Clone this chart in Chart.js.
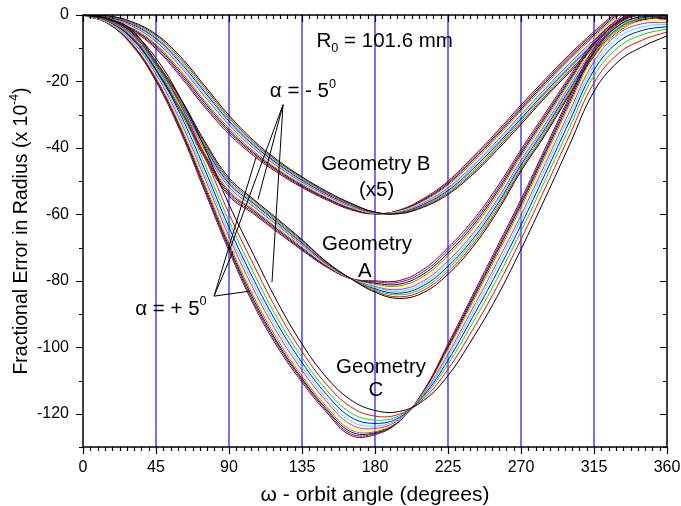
<!DOCTYPE html>
<html>
<head>
<meta charset="utf-8">
<script src="https://cdn.jsdelivr.net/npm/chart.js@4.4.1/dist/chart.umd.min.js"></script>
<style>
  body { margin: 0; background: #fff; }
  canvas { display: block; }
</style>
</head>
<body>
<canvas id="grafico" width="681" height="506"></canvas>
<script>
/** angulos de orbita (grados) */
const angulos = [0, 15, 30, 45, 60, 75, 90, 105, 120, 135, 150, 165, 180,
                 195, 210, 225, 240, 255, 270, 285, 300, 315, 330, 345, 360];

/** valores de alfa, una curva por valor */
const alfas = [-5, -4, -3, -2, -1, 0, 1, 2, 3, 4, 5];

/** colores de cada curva (orden de Origin) */
const colores = ['#000000', '#ff0000', '#00e000', '#0000ff', '#00ffff', '#ff00ff',
                 '#ffff00', '#808000', '#000080', '#800080', '#800000'];

/** lineas verticales azules */
const lineasAzules = [45, 90, 135, 180, 225, 270, 315];

/** Geometria B (x5): una fila por angulo, una columna por alfa */
const geomB = [
  [0, 0, 0, 0, 0, 0, 0, 0, 0, 0, 0],
  [-0.2, -0.3, -0.4, -0.6, -0.7, -0.8, -0.9, -1.0, -1.2, -1.3, -1.4],
  [-2.0, -2.3, -2.5, -2.8, -3.0, -3.3, -3.6, -3.8, -4.1, -4.3, -4.6],
  [-5.8, -6.2, -6.7, -7.1, -7.6, -8.0, -8.4, -8.9, -9.3, -9.8, -10.2],
  [-12.5, -13.1, -13.7, -14.3, -14.9, -15.5, -16.1, -16.7, -17.3, -17.9, -18.5],
  [-21.3, -21.9, -22.6, -23.2, -23.9, -24.5, -25.1, -25.8, -26.4, -27.1, -27.7],
  [-30.2, -30.8, -31.3, -31.9, -32.4, -33.0, -33.6, -34.1, -34.7, -35.2, -35.8],
  [-37.7, -38.2, -38.6, -39.1, -39.5, -40.0, -40.5, -40.9, -41.4, -41.8, -42.3],
  [-43.7, -44.1, -44.5, -44.8, -45.2, -45.6, -46.0, -46.4, -46.7, -47.1, -47.5],
  [-48.7, -49.0, -49.3, -49.7, -50.0, -50.3, -50.6, -50.9, -51.3, -51.6, -51.9],
  [-53.0, -53.3, -53.5, -53.8, -54.0, -54.3, -54.6, -54.8, -55.1, -55.3, -55.6],
  [-56.6, -56.8, -57.0, -57.2, -57.4, -57.6, -57.8, -58.0, -58.2, -58.4, -58.6],
  [-59.3, -59.4, -59.4, -59.5, -59.5, -59.6, -59.7, -59.7, -59.8, -59.8, -59.9],
  [-59.8, -59.7, -59.6, -59.5, -59.4, -59.3, -59.1, -59.0, -58.9, -58.8, -58.7],
  [-57.8, -57.5, -57.3, -57.0, -56.8, -56.5, -56.2, -56.0, -55.7, -55.5, -55.2],
  [-54.0, -53.6, -53.2, -52.8, -52.4, -52.0, -51.6, -51.2, -50.8, -50.4, -50.0],
  [-48.1, -47.6, -47.1, -46.5, -46.0, -45.5, -45.0, -44.5, -43.9, -43.4, -42.9],
  [-40.8, -40.2, -39.7, -39.1, -38.6, -38.0, -37.4, -36.9, -36.3, -35.8, -35.2],
  [-32.9, -32.3, -31.7, -31.2, -30.6, -30.0, -29.4, -28.8, -28.3, -27.7, -27.1],
  [-24.8, -24.3, -23.7, -23.2, -22.6, -22.1, -21.5, -21.0, -20.4, -19.9, -19.3],
  [-17.2, -16.7, -16.1, -15.6, -15.0, -14.5, -14.0, -13.4, -12.9, -12.3, -11.8],
  [-10.0, -9.5, -9.0, -8.5, -8.0, -7.5, -7.0, -6.5, -6.0, -5.5, -5.0],
  [-3.1, -2.7, -2.3, -1.8, -1.4, -1.0, -0.6, -0.2, 0.3, 0.7, 1.1],
  [2.5, 2.8, 3.1, 3.4, 3.7, 4.0, 4.3, 4.6, 4.9, 5.2, 5.5],
  [5.9, 6.1, 6.3, 6.6, 6.8, 7.0, 7.2, 7.4, 7.7, 7.9, 8.1]
];

/** Geometria A */
const geomA = [
  [0, 0, 0, 0, 0, 0, 0, 0, 0, 0, 0],
  [-1.0, -1.1, -1.2, -1.3, -1.4, -1.5, -1.6, -1.7, -1.8, -1.9, -2.0],
  [-4.5, -4.8, -5.0, -5.3, -5.5, -5.8, -6.0, -6.3, -6.5, -6.8, -7.0],
  [-14.0, -14.3, -14.6, -14.9, -15.2, -15.5, -15.8, -16.1, -16.4, -16.7, -17.0],
  [-25.0, -25.4, -25.8, -26.2, -26.6, -27.0, -27.4, -27.8, -28.2, -28.6, -29.0],
  [-38.0, -38.5, -39.0, -39.5, -40.0, -40.5, -41.0, -41.5, -42.0, -42.5, -43.0],
  [-49.0, -49.6, -50.1, -50.7, -51.2, -51.8, -52.3, -52.9, -53.4, -54.0, -54.5],
  [-55.4, -55.8, -56.3, -56.7, -57.2, -57.6, -58.0, -58.5, -58.9, -59.4, -59.8],
  [-61.4, -61.8, -62.2, -62.6, -63.0, -63.4, -63.8, -64.2, -64.6, -65.0, -65.4],
  [-67.6, -67.9, -68.2, -68.6, -68.9, -69.2, -69.5, -69.8, -70.2, -70.5, -70.8],
  [-74.2, -74.4, -74.5, -74.7, -74.8, -75.0, -75.2, -75.3, -75.5, -75.6, -75.8],
  [-79.3, -79.3, -79.3, -79.3, -79.3, -79.3, -79.3, -79.3, -79.3, -79.3, -79.3],
  [-83.4, -83.1, -82.7, -82.4, -82.0, -81.7, -81.4, -81.0, -80.7, -80.3, -80.0],
  [-85.3, -84.8, -84.2, -83.7, -83.1, -82.6, -82.1, -81.5, -81.0, -80.4, -79.9],
  [-83.5, -82.8, -82.1, -81.4, -80.7, -80.0, -79.3, -78.6, -77.9, -77.2, -76.5],
  [-78.0, -77.2, -76.4, -75.6, -74.8, -74.0, -73.2, -72.4, -71.6, -70.8, -70.0],
  [-70.0, -69.2, -68.4, -67.6, -66.8, -66.0, -65.2, -64.4, -63.6, -62.8, -62.0],
  [-59.5, -58.8, -58.0, -57.3, -56.5, -55.8, -55.0, -54.3, -53.5, -52.8, -52.0],
  [-47.0, -46.4, -45.7, -45.1, -44.4, -43.8, -43.1, -42.5, -41.8, -41.2, -40.5],
  [-36.0, -35.4, -34.7, -34.1, -33.4, -32.8, -32.1, -31.5, -30.8, -30.2, -29.5],
  [-24.0, -23.5, -22.9, -22.4, -21.8, -21.3, -20.7, -20.2, -19.6, -19.1, -18.5],
  [-12.5, -12.1, -11.6, -11.2, -10.7, -10.3, -9.8, -9.4, -8.9, -8.5, -8.0],
  [-5.0, -4.7, -4.3, -4.0, -3.6, -3.3, -2.9, -2.6, -2.2, -1.9, -1.5],
  [-1.5, -1.3, -1.0, -0.8, -0.5, -0.3, 0.0, 0.3, 0.5, 0.8, 1.0],
  [-1.0, -0.8, -0.5, -0.3, 0.0, 0.3, 0.5, 0.8, 1.0, 1.3, 1.5]
];

/** Geometria C */
const geomC = [
  [0, 0, 0, 0, 0, 0, 0, 0, 0, 0, 0],
  [-1.2, -1.5, -1.7, -1.8, -2.0, -2.1, -2.2, -2.3, -2.4, -2.4, -2.5],
  [-5.0, -5.8, -6.4, -7.0, -7.4, -7.8, -8.1, -8.4, -8.6, -8.8, -9.0],
  [-13.0, -14.4, -15.5, -16.4, -17.2, -17.8, -18.4, -18.9, -19.3, -19.7, -20.0],
  [-25.0, -27.0, -28.6, -29.9, -31.0, -31.9, -32.7, -33.4, -34.0, -34.5, -35.0],
  [-40.0, -42.6, -44.7, -46.4, -47.8, -49.0, -50.0, -50.9, -51.7, -52.4, -53.0],
  [-57.0, -59.8, -62.0, -63.9, -65.4, -66.7, -67.8, -68.8, -69.6, -70.3, -71.0],
  [-72.0, -75.0, -77.4, -79.4, -81.0, -82.4, -83.6, -84.6, -85.5, -86.3, -87.0],
  [-86.5, -89.2, -91.4, -93.1, -94.6, -95.8, -96.9, -97.8, -98.7, -99.3, -100.0],
  [-99.0, -101.3, -103.1, -104.6, -105.9, -106.9, -107.9, -108.7, -109.4, -109.9, -110.5],
  [-109.0, -111.1, -112.8, -114.1, -115.3, -116.2, -117.1, -117.8, -118.5, -119.0, -119.5],
  [-115.8, -117.9, -119.7, -121.0, -122.2, -123.2, -124.0, -124.8, -125.4, -126.0, -126.5],
  [-119.0, -120.7, -121.9, -122.9, -123.7, -124.4, -124.9, -125.4, -125.7, -126.0, -126.3],
  [-119.3, -120.1, -120.6, -121.1, -121.4, -121.7, -121.9, -122.0, -122.1, -122.2, -122.3],
  [-116.0, -115.4, -114.9, -114.5, -114.2, -113.9, -113.7, -113.5, -113.3, -113.2, -113.0],
  [-108.5, -106.6, -105.1, -103.9, -102.8, -102.0, -101.2, -100.5, -100.0, -99.5, -99.0],
  [-97.5, -94.9, -92.8, -91.1, -89.7, -88.5, -87.5, -86.6, -85.8, -85.2, -84.5],
  [-85.0, -82.0, -79.6, -77.7, -76.0, -74.7, -73.5, -72.4, -71.5, -70.8, -70.0],
  [-70.5, -67.5, -65.1, -63.2, -61.5, -60.2, -59.0, -57.9, -57.0, -56.3, -55.5],
  [-55.0, -52.0, -49.6, -47.7, -46.0, -44.7, -43.5, -42.4, -41.5, -40.8, -40.0],
  [-39.0, -36.1, -33.8, -31.9, -30.3, -29.0, -27.8, -26.8, -26.0, -25.2, -24.5],
  [-23.0, -20.4, -18.3, -16.6, -15.2, -14.0, -13.0, -12.1, -11.3, -10.7, -10.0],
  [-14.0, -11.6, -9.7, -8.1, -6.8, -5.7, -4.8, -3.9, -3.2, -2.6, -2.0],
  [-9.5, -7.5, -5.9, -4.6, -3.5, -2.6, -1.8, -1.1, -0.5, 0.0, 0.5],
  [-6.3, -5.1, -4.2, -3.5, -2.8, -2.3, -1.8, -1.4, -1.1, -0.8, -0.5]
];

/** textos dentro del grafico (posicion en unidades de los ejes) */
const etiquetas = [
  { partes: [['R', ''], ['0', 'sub'], [' = 101.6 mm', '']], x: 186, y: -8.0 },
  { partes: [['\u03b1 = - 5', ''], ['0', 'sup']], x: 135.6, y: -23.1 },
  { partes: [['\u03b1 = + 5', ''], ['0', 'sup']], x: 54.2, y: -88.5 },
  { partes: [['Geometry B', '']], x: 180.5, y: -45 },
  { partes: [['(x5)', '']], x: 181, y: -52.8 },
  { partes: [['Geometry', '']], x: 175, y: -69 },
  { partes: [['A', '']], x: 173.8, y: -77.1 },
  { partes: [['Geometry', '']], x: 183.7, y: -105.9 },
  { partes: [['C', '']], x: 180.6, y: -113.1 }
];

/** lineas que salen de las etiquetas de alfa */
const flechas = [
  [[123.3, -27.0], [90.6, -70.5]],
  [[123.3, -27.0], [107.9, -55.5]],
  [[123.3, -27.0], [116.5, -80.4]],
  [[80.8, -84.6], [106.6, -42.9]],
  [[80.8, -84.6], [92.5, -71.1]],
  [[80.8, -84.6], [102.9, -83.1]]
];

const fuente = 'Liberation Sans, Arial, sans-serif';
Chart.defaults.font.family = fuente;
Chart.defaults.color = '#000';

function armarSeries(tabla, nombre) {
  return alfas.map(function (a, k) {
    return {
      label: nombre + ' alfa=' + a,
      data: angulos.map(function (w, i) { return { x: w, y: tabla[i][k] }; }),
      borderColor: colores[k],
      borderWidth: 1,
      pointRadius: 0,
      tension: 0.4,
      fill: false
    };
  });
}

// dibuja un texto con partes normales, sub y superindice, centrado en (cx, cy)
function textoCompuesto(ctx, partes, cx, cy, tam) {
  let ancho = 0;
  partes.forEach(function (p) {
    ctx.font = (p[1] ? tam * 0.62 : tam) + 'px ' + fuente;
    ancho += ctx.measureText(p[0]).width;
  });
  let x = cx - ancho / 2;
  ctx.textAlign = 'left';
  ctx.textBaseline = 'middle';
  partes.forEach(function (p) {
    let dy = 0;
    if (p[1] === 'sub') dy = tam * 0.32;
    if (p[1] === 'sup') dy = -tam * 0.36;
    ctx.font = (p[1] ? tam * 0.62 : tam) + 'px ' + fuente;
    ctx.fillText(p[0], x, cy + dy);
    x += ctx.measureText(p[0]).width;
  });
}

const decorado = {
  id: 'decorado',
  beforeDatasetsDraw: function (chart) {
    const ctx = chart.ctx;
    const a = chart.chartArea;
    const sx = chart.scales.x;
    ctx.save();
    ctx.strokeStyle = '#5050ff';
    ctx.lineWidth = 1.6;
    ctx.beginPath();
    lineasAzules.forEach(function (v) {
      const px = sx.getPixelForValue(v);
      ctx.moveTo(px, a.top);
      ctx.lineTo(px, a.bottom);
    });
    ctx.stroke();
    ctx.restore();
  },
  afterDraw: function (chart) {
    const ctx = chart.ctx;
    const a = chart.chartArea;
    const sx = chart.scales.x;
    const sy = chart.scales.y;
    ctx.save();
    ctx.fillStyle = '#000';

    // lineas de las etiquetas alfa
    ctx.strokeStyle = '#000';
    ctx.lineWidth = 1;
    flechas.forEach(function (f) {
      ctx.beginPath();
      ctx.moveTo(sx.getPixelForValue(f[0][0]), sy.getPixelForValue(f[0][1]));
      ctx.lineTo(sx.getPixelForValue(f[1][0]), sy.getPixelForValue(f[1][1]));
      ctx.stroke();
    });

    // textos
    etiquetas.forEach(function (e) {
      textoCompuesto(ctx, e.partes, sx.getPixelForValue(e.x), sy.getPixelForValue(e.y), 20.5);
    });

    // marco
    ctx.lineWidth = 1.5;
    ctx.strokeRect(a.left, a.top, a.right - a.left, a.bottom - a.top);

    // marcas del eje x (abajo hacia fuera, arriba hacia dentro)
    ctx.lineWidth = 1.2;
    ctx.beginPath();
    for (let i = 0; i <= 80; i++) {
      const px = Math.round(sx.getPixelForValue(i * 4.5)) + 0.5;
      const largo = i % 10 === 0 ? 7 : 4;
      ctx.moveTo(px, a.bottom); ctx.lineTo(px, a.bottom + largo);
      ctx.moveTo(px, a.top); ctx.lineTo(px, a.top + largo);
    }
    // marcas del eje y (izquierda hacia fuera, derecha hacia dentro)
    for (let v = 0; v >= -130; v -= 10) {
      const py = Math.round(sy.getPixelForValue(v)) + 0.5;
      const largo = v % 20 === 0 ? 7 : 4;
      ctx.moveTo(a.left, py); ctx.lineTo(a.left - largo, py);
      ctx.moveTo(a.right, py); ctx.lineTo(a.right - largo, py);
    }
    ctx.stroke();

    // titulos de ejes
    textoCompuesto(ctx, [['\u03c9 - orbit angle (degrees)', '']], (a.left + a.right) / 2, 495, 21);
    ctx.translate(22, (a.top + a.bottom) / 2);
    ctx.rotate(-Math.PI / 2);
    textoCompuesto(ctx, [['Fractional Error in Radius (x 10', ''], ['-4', 'sup'], [')', '']], 0, 0, 19.5);
    ctx.restore();
  }
};

const series = armarSeries(geomC, 'C').concat(armarSeries(geomA, 'A'), armarSeries(geomB, 'B'));

new Chart(document.getElementById('grafico'), {
  type: 'line',
  data: { datasets: series },
  options: {
    responsive: false,
    animation: false,
    layout: { padding: { left: 0, right: 14, top: 15, bottom: 0 } },
    plugins: { legend: { display: false }, tooltip: { enabled: false } },
    scales: {
      x: {
        type: 'linear',
        min: 0,
        max: 360,
        ticks: { stepSize: 45, autoSkip: false, maxRotation: 0, padding: 11, font: { size: 16 } },
        grid: { display: false, drawTicks: false },
        border: { display: false },
        afterFit: function (s) {
          s.height = 59;
          s.paddingLeft = 0;
          s.paddingRight = 0;
        }
      },
      y: {
        min: -130,
        max: 0,
        ticks: {
          stepSize: 10,
          autoSkip: false,
          padding: 14,
          font: { size: 16 },
          callback: function (v) { return v % 20 === 0 ? v : ''; }
        },
        grid: { display: false, drawTicks: false },
        border: { display: false },
        afterFit: function (s) {
          s.width = 83;
          s.paddingTop = 0;
          s.paddingBottom = 0;
        }
      }
    }
  },
  plugins: [decorado]
});
</script>
</body>
</html>
